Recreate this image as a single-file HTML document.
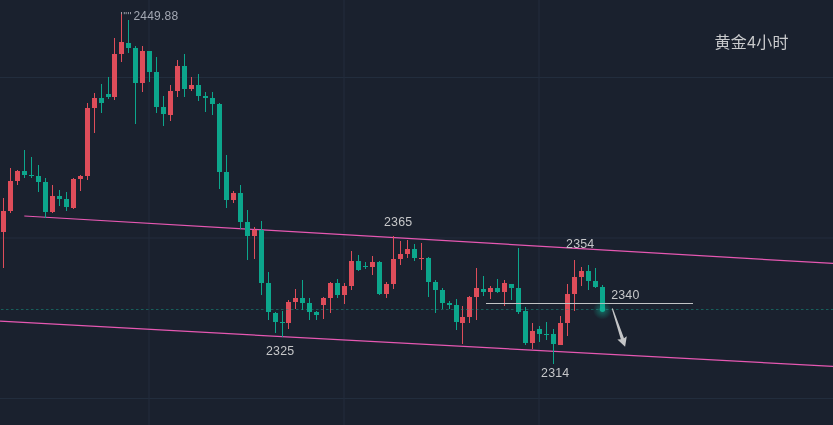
<!DOCTYPE html>
<html lang="zh"><head><meta charset="utf-8"><title>黄金4小时</title>
<style>
html,body{margin:0;padding:0;background:#1a212e;}
body{width:833px;height:425px;overflow:hidden;position:relative;font-family:"Liberation Sans","Noto Sans CJK SC",sans-serif;}
svg{position:absolute;left:0;top:0;display:block}
.lbl{position:absolute;font-size:12.4px;letter-spacing:0.2px;line-height:12px;color:#c6c7c9;white-space:nowrap}
.hi{color:#a3a8b3;font-size:12px;letter-spacing:0.2px}
.title{position:absolute;left:714.4px;top:32.5px;font-size:16px;letter-spacing:0.3px;line-height:20px;color:#c9cacc;white-space:nowrap;font-family:"Liberation Sans","Noto Sans CJK SC",sans-serif}
</style></head><body>
<svg width="833" height="425" viewBox="0 0 833 425">
<defs><radialGradient id="glow"><stop offset="0" stop-color="#12b89b" stop-opacity="0.55"/><stop offset="0.4" stop-color="#12b89b" stop-opacity="0.3"/><stop offset="1" stop-color="#12b89b" stop-opacity="0"/></radialGradient></defs>
<g stroke="#222d3d" stroke-width="1">
<line x1="0" y1="77.5" x2="833" y2="77.5"/><line x1="0" y1="238" x2="833" y2="238"/><line x1="0" y1="398.5" x2="833" y2="398.5"/>
<line x1="149" y1="0" x2="149" y2="425"/><line x1="344" y1="0" x2="344" y2="425"/><line x1="539" y1="0" x2="539" y2="425"/>
</g>
<line x1="24.3" y1="216" x2="833" y2="263.45" stroke="#e658b2" stroke-width="1.25"/>
<line x1="0" y1="321.2" x2="833" y2="366.5" stroke="#e658b2" stroke-width="1.25"/>
<g shape-rendering="crispEdges">
<g fill="#0ca68c"><rect x="24" y="150" width="1" height="28"/><rect x="22" y="171" width="5" height="4"/><rect x="31" y="157" width="1" height="21"/><rect x="29" y="175" width="5" height="1"/><rect x="38" y="165" width="1" height="27"/><rect x="36" y="176" width="5" height="6"/><rect x="45" y="178" width="1" height="40"/><rect x="43" y="182" width="5" height="30"/><rect x="59" y="190" width="1" height="16"/><rect x="57" y="196" width="5" height="3"/><rect x="66" y="192" width="1" height="19"/><rect x="64" y="199" width="5" height="8"/><rect x="101" y="84" width="1" height="29"/><rect x="99" y="98" width="5" height="5"/><rect x="108" y="77" width="1" height="22"/><rect x="106" y="94" width="5" height="3"/><rect x="128" y="20" width="1" height="33"/><rect x="126" y="43" width="5" height="5"/><rect x="135" y="46" width="1" height="78"/><rect x="133" y="48" width="5" height="35"/><rect x="149" y="51" width="1" height="31"/><rect x="147" y="51" width="5" height="21"/><rect x="156" y="57" width="1" height="56"/><rect x="154" y="72" width="5" height="35"/><rect x="163" y="96" width="1" height="30"/><rect x="161" y="107" width="5" height="7"/><rect x="184" y="54" width="1" height="43"/><rect x="182" y="66" width="5" height="23"/><rect x="198" y="74" width="1" height="27"/><rect x="196" y="85" width="5" height="11"/><rect x="205" y="92" width="1" height="20"/><rect x="203" y="96" width="5" height="2"/><rect x="212" y="92" width="1" height="23"/><rect x="210" y="98" width="5" height="6"/><rect x="219" y="103" width="1" height="86"/><rect x="217" y="104" width="5" height="68"/><rect x="226" y="155" width="1" height="53"/><rect x="224" y="172" width="5" height="28"/><rect x="240" y="185" width="1" height="44"/><rect x="238" y="193" width="5" height="29"/><rect x="247" y="210" width="1" height="50"/><rect x="245" y="222" width="5" height="14"/><rect x="261" y="221" width="1" height="74"/><rect x="259" y="230" width="5" height="53"/><rect x="268" y="272" width="1" height="48"/><rect x="266" y="283" width="5" height="29"/><rect x="275" y="312" width="1" height="21"/><rect x="273" y="313" width="5" height="9"/><rect x="282" y="311" width="1" height="26"/><rect x="280" y="322" width="5" height="1"/><rect x="302" y="280" width="1" height="30"/><rect x="300" y="298" width="5" height="5"/><rect x="309" y="298" width="1" height="22"/><rect x="307" y="303" width="5" height="9"/><rect x="316" y="311" width="1" height="9"/><rect x="314" y="312" width="5" height="3"/><rect x="337" y="279" width="1" height="19"/><rect x="335" y="283" width="5" height="12"/><rect x="358" y="255" width="1" height="16"/><rect x="356" y="261" width="5" height="9"/><rect x="365" y="262" width="1" height="7"/><rect x="363" y="266" width="5" height="1"/><rect x="379" y="261" width="1" height="34"/><rect x="377" y="262" width="5" height="32"/><rect x="414" y="244" width="1" height="17"/><rect x="412" y="249" width="5" height="9"/><rect x="428" y="257" width="1" height="40"/><rect x="426" y="258" width="5" height="24"/><rect x="435" y="280" width="1" height="33"/><rect x="433" y="282" width="5" height="8"/><rect x="442" y="288" width="1" height="21"/><rect x="440" y="290" width="5" height="13"/><rect x="449" y="301" width="1" height="8"/><rect x="447" y="303" width="5" height="2"/><rect x="456" y="299" width="1" height="31"/><rect x="454" y="305" width="5" height="17"/><rect x="483" y="276" width="1" height="20"/><rect x="481" y="289" width="5" height="3"/><rect x="497" y="279" width="1" height="14"/><rect x="495" y="288" width="5" height="4"/><rect x="511" y="284" width="1" height="16"/><rect x="509" y="284" width="5" height="4"/><rect x="518" y="248" width="1" height="66"/><rect x="516" y="288" width="5" height="24"/><rect x="525" y="307" width="1" height="38"/><rect x="523" y="311" width="5" height="32"/><rect x="539" y="326" width="1" height="16"/><rect x="537" y="329" width="5" height="5"/><rect x="546" y="322" width="1" height="18"/><rect x="544" y="334" width="5" height="1"/><rect x="553" y="329" width="1" height="35"/><rect x="551" y="334" width="5" height="10"/><rect x="588" y="265" width="1" height="25"/><rect x="586" y="271" width="5" height="10"/><rect x="595" y="268" width="1" height="20"/><rect x="593" y="281" width="5" height="6"/><rect x="602" y="285" width="1" height="25"/><rect x="600" y="287" width="5" height="23"/></g>
<g fill="#de4d5a"><rect x="3" y="198" width="1" height="70"/><rect x="1" y="211" width="5" height="21"/><rect x="10" y="168" width="1" height="45"/><rect x="8" y="181" width="5" height="30"/><rect x="17" y="170" width="1" height="15"/><rect x="15" y="171" width="5" height="10"/><rect x="52" y="185" width="1" height="28"/><rect x="50" y="196" width="5" height="16"/><rect x="73" y="178" width="1" height="31"/><rect x="71" y="179" width="5" height="29"/><rect x="80" y="175" width="1" height="16"/><rect x="78" y="176" width="5" height="3"/><rect x="87" y="103" width="1" height="77"/><rect x="85" y="108" width="5" height="68"/><rect x="94" y="93" width="1" height="40"/><rect x="92" y="98" width="5" height="10"/><rect x="114" y="38" width="1" height="62"/><rect x="112" y="54" width="5" height="43"/><rect x="121" y="12" width="1" height="50"/><rect x="119" y="42" width="5" height="12"/><rect x="142" y="46" width="1" height="46"/><rect x="140" y="51" width="5" height="32"/><rect x="170" y="85" width="1" height="36"/><rect x="168" y="91" width="5" height="24"/><rect x="177" y="60" width="1" height="37"/><rect x="175" y="66" width="5" height="25"/><rect x="191" y="77" width="1" height="14"/><rect x="189" y="85" width="5" height="4"/><rect x="233" y="191" width="1" height="12"/><rect x="231" y="193" width="5" height="7"/><rect x="254" y="227" width="1" height="32"/><rect x="252" y="230" width="5" height="6"/><rect x="288" y="300" width="1" height="29"/><rect x="286" y="302" width="5" height="21"/><rect x="295" y="289" width="1" height="20"/><rect x="293" y="298" width="5" height="4"/><rect x="323" y="297" width="1" height="22"/><rect x="321" y="298" width="5" height="7"/><rect x="330" y="282" width="1" height="31"/><rect x="328" y="283" width="5" height="15"/><rect x="344" y="283" width="1" height="21"/><rect x="342" y="286" width="5" height="9"/><rect x="351" y="251" width="1" height="39"/><rect x="349" y="261" width="5" height="25"/><rect x="372" y="256" width="1" height="19"/><rect x="370" y="262" width="5" height="5"/><rect x="386" y="282" width="1" height="16"/><rect x="384" y="284" width="5" height="10"/><rect x="393" y="236" width="1" height="53"/><rect x="391" y="259" width="5" height="25"/><rect x="400" y="241" width="1" height="24"/><rect x="398" y="254" width="5" height="5"/><rect x="407" y="240" width="1" height="18"/><rect x="405" y="249" width="5" height="5"/><rect x="421" y="243" width="1" height="27"/><rect x="419" y="258" width="5" height="1"/><rect x="462" y="306" width="1" height="38"/><rect x="460" y="317" width="5" height="6"/><rect x="469" y="296" width="1" height="27"/><rect x="467" y="297" width="5" height="20"/><rect x="476" y="268" width="1" height="52"/><rect x="474" y="288" width="5" height="9"/><rect x="490" y="286" width="1" height="13"/><rect x="488" y="288" width="5" height="4"/><rect x="504" y="280" width="1" height="26"/><rect x="502" y="283" width="5" height="9"/><rect x="532" y="323" width="1" height="26"/><rect x="530" y="331" width="5" height="12"/><rect x="560" y="316" width="1" height="29"/><rect x="558" y="323" width="5" height="22"/><rect x="567" y="284" width="1" height="52"/><rect x="565" y="294" width="5" height="29"/><rect x="574" y="260" width="1" height="51"/><rect x="572" y="277" width="5" height="17"/><rect x="581" y="267" width="1" height="19"/><rect x="579" y="271" width="5" height="6"/></g>
</g>
<line x1="0" y1="309.5" x2="833" y2="309.5" stroke="#14a08a" stroke-opacity="0.5" stroke-width="1" stroke-dasharray="2.5 2.5" stroke-dashoffset="-1"/>
<g fill="#a4a8b3"><rect x="121.1" y="12" width="0.9" height="2.2"/><rect x="123.8" y="12" width="0.9" height="2.2"/><rect x="125.7" y="12" width="0.9" height="2.2"/><rect x="127.9" y="12" width="0.9" height="2.2"/><rect x="130.1" y="12" width="0.9" height="2.2"/></g>
<rect x="486" y="303" width="207" height="1" fill="#c2c3c5" shape-rendering="crispEdges"/>
<circle cx="602.4" cy="310" r="9.5" fill="url(#glow)"/>
<circle cx="602.5" cy="309.3" r="2.7" fill="#12b096"/>
<path d="M611.8 308.7 L612.8 308.3 L624.0 338.3 L626.8 336.3 L625.1 346.7 L617.4 339.5 L620.8 339.3 Z" fill="#c4c5c7"/>
</svg>
<div class="lbl hi" style="left:133.5px;top:10px">2449.88</div>
<div class="lbl" style="left:384px;top:216px">2365</div>
<div class="lbl" style="left:266px;top:345px">2325</div>
<div class="lbl" style="left:566.1px;top:238px">2354</div>
<div class="lbl" style="left:611.2px;top:289px">2340</div>
<div class="lbl" style="left:541.1px;top:367px">2314</div>
<div class="title">黄金4小时</div>
</body></html>
